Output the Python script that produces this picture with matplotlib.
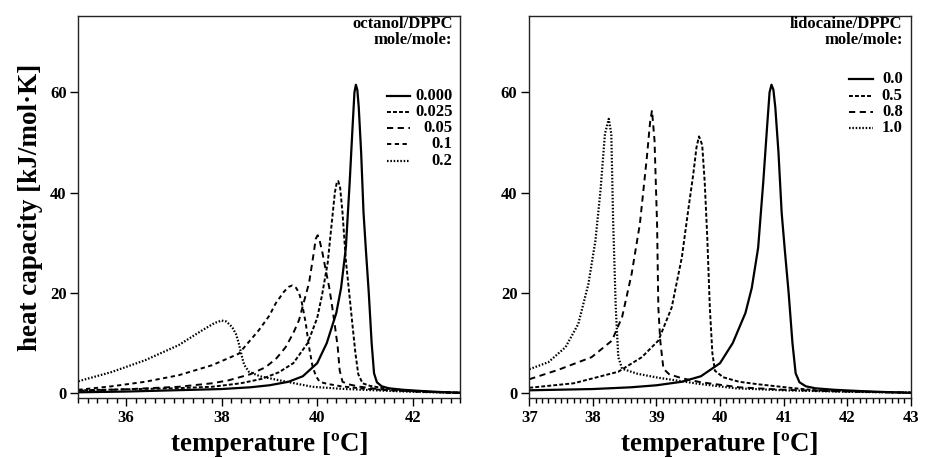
import numpy as np
import matplotlib
matplotlib.use("Agg")
import matplotlib.pyplot as plt
from matplotlib.ticker import MultipleLocator

plt.rcParams['font.family'] = ['Liberation Serif', 'DejaVu Serif']
plt.rcParams['font.weight'] = 'bold'

# pure DPPC (same curve in both panels)
t_dppc = [35.0, 36.0, 37.0, 38.0, 38.6, 39.0, 39.4, 39.7, 40.0, 40.2, 40.4, 40.5, 40.6, 40.68,
          40.74, 40.78, 40.81, 40.84, 40.87, 40.92, 40.97, 41.02, 41.08, 41.14, 41.19, 41.25,
          41.35, 41.5, 41.8, 42.2, 42.6, 43.0]
cp_dppc = [0.2, 0.35, 0.6, 0.85, 1.2, 1.6, 2.3, 3.4, 6.0, 10.0, 16.0, 21.0, 29.0, 42.0,
           53.0, 60.0, 61.5, 60.5, 57.0, 48.0, 36.0, 28.5, 20.0, 10.0, 4.0, 2.2,
           1.4, 1.0, 0.7, 0.45, 0.25, 0.1]

# octanol/DPPC
t_oct025 = [35.0, 36.0, 37.0, 37.8, 38.4, 38.85, 39.2, 39.5, 39.8, 40.0, 40.1, 40.22, 40.3, 40.37,
            40.41, 40.44, 40.48, 40.53, 40.6, 40.67, 40.74, 40.8, 40.86, 40.95, 41.1, 41.4, 41.8,
            42.3, 43.0]
cp_oct025 = [0.6, 0.8, 1.0, 1.3, 2.0, 2.9, 4.2, 6.0, 10.0, 15.0, 19.5, 26.0, 33.5, 40.0,
             42.0, 42.3, 41.0, 36.0, 26.5, 20.0, 13.5, 8.0, 3.8, 2.0, 1.5, 1.0, 0.6,
             0.3, 0.1]

t_oct05 = [35.0, 36.0, 37.1, 37.8, 38.15, 38.6, 38.92, 39.15, 39.34, 39.5, 39.62, 39.73, 39.83,
           39.92, 39.97, 40.01, 40.05, 40.11, 40.18, 40.25, 40.31, 40.37, 40.43, 40.47, 40.53,
           40.65, 40.9, 41.3, 41.8, 42.4, 43.0]
cp_oct05 = [0.5, 0.8, 1.3, 2.0, 2.6, 3.8, 5.2, 7.0, 9.2, 12.0, 14.6, 18.5, 22.0,
            27.5, 30.8, 31.5, 30.5, 28.0, 24.5, 21.2, 17.5, 13.5, 9.2, 4.6, 2.3,
            1.8, 1.3, 0.8, 0.5, 0.25, 0.1]

t_oct1 = [35.0, 35.7, 36.4, 37.1, 37.8, 38.36, 38.78, 39.0, 39.13, 39.3, 39.4, 39.48, 39.56, 39.62,
          39.68, 39.76, 39.83, 39.9, 39.97, 40.05, 40.2, 40.5, 41.0, 41.5, 42.2, 43.0]
cp_oct1 = [0.7, 1.4, 2.3, 3.6, 5.6, 7.9, 12.6, 15.5, 17.9, 20.2, 21.2, 21.5, 21.0, 20.0,
           18.0, 14.0, 9.2, 5.5, 3.5, 2.3, 1.9, 1.4, 0.9, 0.6, 0.3, 0.1]

t_oct2 = [35.0, 35.7, 36.4, 37.1, 37.6, 37.85, 38.0, 38.1, 38.22, 38.3, 38.36, 38.42, 38.47,
          38.57, 38.8, 39.2, 39.9, 40.5, 41.2, 42.0, 43.0]
cp_oct2 = [2.4, 4.25, 6.6, 9.6, 12.6, 14.0, 14.5, 14.3, 13.2, 11.8, 9.9, 7.5, 5.7,
           4.3, 3.4, 2.6, 1.3, 0.9, 0.6, 0.3, 0.1]

# lidocaine/DPPC
t_lid05 = [37.0, 37.7, 38.4, 38.77, 39.03, 39.24, 39.4, 39.5, 39.58, 39.63, 39.67, 39.72, 39.76,
           39.8, 39.84, 39.88, 39.92, 40.05, 40.3, 40.6, 41.1, 41.5, 42.2, 43.0]
cp_lid05 = [1.1, 2.0, 4.3, 7.2, 10.5, 17.1, 27.1, 36.5, 43.7, 49.0, 51.2, 49.5, 42.0,
            31.0, 17.1, 8.0, 4.5, 3.2, 2.3, 1.8, 1.1, 0.6, 0.3, 0.1]

t_lid08 = [37.0, 37.46, 37.98, 38.3, 38.46, 38.61, 38.74, 38.85, 38.9, 38.93, 38.97, 39.01, 39.03,
           39.06, 39.11, 39.2, 39.4, 39.7, 40.3, 41.0, 41.8, 43.0]
cp_lid08 = [2.8, 4.7, 7.2, 10.5, 15.2, 23.8, 33.8, 47.1, 54.0, 56.4, 50.4, 33.8, 17.1,
            10.5, 4.9, 3.8, 3.0, 2.2, 1.2, 0.7, 0.4, 0.15]

t_lid10 = [37.0, 37.3, 37.57, 37.77, 37.93, 38.04, 38.12, 38.19, 38.25, 38.29, 38.32, 38.36, 38.4,
           38.46, 38.7, 39.03, 39.66, 40.24, 41.0, 42.0, 43.0]
cp_lid10 = [4.8, 6.2, 9.2, 13.8, 21.8, 30.4, 40.4, 51.7, 54.7, 51.7, 33.8, 17.1, 7.2,
            4.9, 3.9, 3.1, 1.9, 1.0, 0.6, 0.3, 0.15]

oct_labels = ['0.000', '0.025', '0.05', '0.1', '0.2']
lid_labels = ['0.0', '0.5', '0.8', '1.0']

SOLID = '-'
SHORT = (0, (2.0, 1.1))
LONG = (0, (3.2, 2.3))
MED = (0, (2.2, 1.8))
DOT = (0, (0.7, 0.8))

fig = plt.figure(figsize=(9.45, 4.58), dpi=100)
ax1 = fig.add_axes([0.0829, 0.1303, 0.4044, 0.8348])
ax2 = fig.add_axes([0.5601, 0.1303, 0.4036, 0.8348])

oct_series = [(t_dppc, cp_dppc, SOLID), (t_oct025, cp_oct025, SHORT), (t_oct05, cp_oct05, LONG),
              (t_oct1, cp_oct1, MED), (t_oct2, cp_oct2, DOT)]
lid_series = [(t_dppc, cp_dppc, SOLID), (t_lid05, cp_lid05, SHORT), (t_lid08, cp_lid08, LONG),
              (t_lid10, cp_lid10, DOT)]


def lw_for(ls):
    if ls == SOLID:
        return 1.6
    if ls == DOT:
        return 1.6
    return 1.4


def legend_block(ax, series, labels, title, rows_y, x0, x1, xr):
    ax.text(xr, 0.958, title, transform=ax.transAxes, ha='right', va='center',
            fontsize=12, fontweight='bold', linespacing=1.0)
    for (t, c, ls), lab, yy in zip(series, labels, rows_y):
        ax.plot([x0, x1], [yy, yy], transform=ax.transAxes, color='black',
                lw=lw_for(ls), linestyle=ls)
        ax.text(xr, yy, lab, transform=ax.transAxes, ha='right', va='center',
                fontsize=12, fontweight='bold')


for ax, series in [(ax1, oct_series), (ax2, lid_series)]:
    for t, c, ls in series:
        ax.plot(t, c, color='black', lw=lw_for(ls), linestyle=ls)
    ax.set_ylim(-1.0, 75.2)
    ax.set_yticks([0, 20, 40, 60])
    for s in ax.spines.values():
        s.set_linewidth(1.0)
        s.set_color('#222222')
    ax.tick_params(axis='both', which='major', direction='out', length=5.5, width=1.0,
                   labelsize=12, pad=3, top=False, right=False)
    ax.tick_params(axis='x', which='minor', direction='out', length=3.5, width=1.0, top=False)
    ax.set_xlabel('temperature [ºC]', fontsize=19.5, fontweight='bold', labelpad=4)
    for lab in ax.get_xticklabels() + ax.get_yticklabels():
        lab.set_fontweight('bold')

ax1.set_xlim(35, 43)
ax1.xaxis.set_major_locator(MultipleLocator(2))
ax1.xaxis.set_minor_locator(MultipleLocator(0.2))
ax1.set_ylabel('heat capacity [kJ/mol·K]', fontsize=19.5, fontweight='bold', labelpad=5)

ax2.set_xlim(37, 43)
ax2.xaxis.set_major_locator(MultipleLocator(1))
ax2.xaxis.set_minor_locator(MultipleLocator(0.1))

legend_block(ax1, oct_series, oct_labels, 'octanol/DPPC\nmole/mole:',
             [0.791, 0.749, 0.707, 0.665, 0.621], 0.808, 0.868, 0.979)
legend_block(ax2, lid_series, lid_labels, 'lidocaine/DPPC\nmole/mole:',
             [0.835, 0.791, 0.749, 0.707], 0.838, 0.901, 0.979)

fig.savefig('out.png', dpi=100)
